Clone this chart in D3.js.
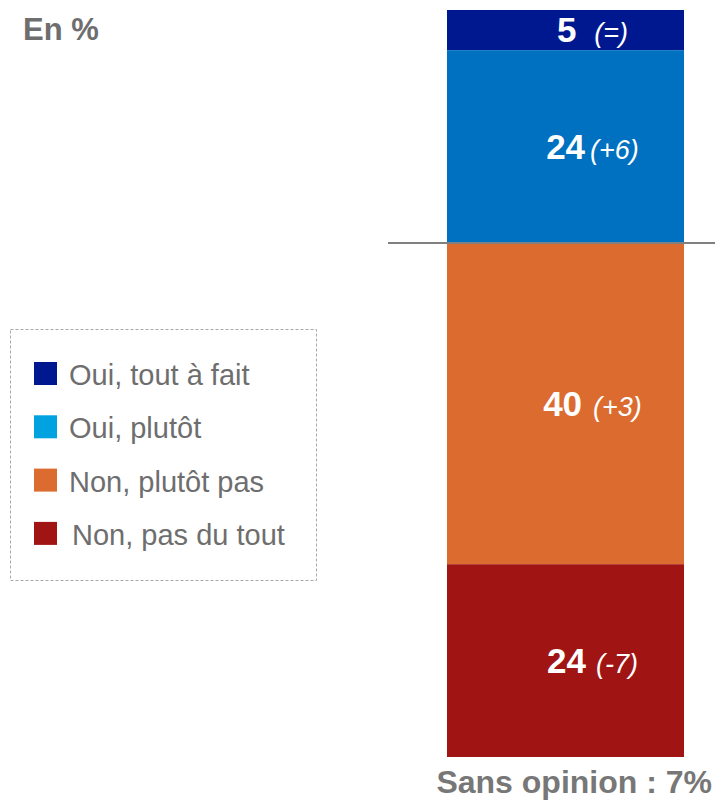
<!DOCTYPE html>
<html><head><meta charset="utf-8">
<script src="https://cdn.jsdelivr.net/npm/d3@7"></script>
<style>body{margin:0;background:#fff}svg{display:block}text{font-family:"Liberation Sans",Arial,sans-serif}</style>
</head><body>
<svg id="c" width="715" height="801"></svg>
<script>
const categories = ["Oui, tout à fait", "Oui, plutôt", "Non, plutôt pas", "Non, pas du tout"];
const values = [5, 24, 40, 24];
const changes = ["(=)", "(+6)", "(+3)", "(-7)"];
const barColors = ["#00188f", "#0070c0", "#dc6b2f", "#a11414"];
const legendColors = ["#00188f", "#00a2df", "#dc6b2f", "#a11414"];
const noOpinion = 7;

const svg = d3.select("#c");
const total = d3.sum(values);
const row = {}; categories.forEach((c, i) => row[c] = values[i]);
const stacked = d3.stack().keys(categories)([row]);

const y = d3.scaleLinear().domain([0, total]).range([10, 757]);
const x = d3.scaleBand().domain(["bar"]).range([447, 684]).padding(0);

const seg = svg.append("g").selectAll("g").data(stacked).join("g");
seg.append("rect")
  .attr("x", x("bar")).attr("width", x.bandwidth())
  .attr("y", d => y(d[0][0])).attr("height", d => y(d[0][1]) - y(d[0][0]))
  .attr("fill", (d, i) => barColors[i]);

const cx = x("bar") + x.bandwidth() / 2 + 27;
const gaps = [18, 5, 11, 10];
const lbl = seg.append("text")
  .attr("x", cx)
  .attr("y", d => (y(d[0][0]) + y(d[0][1])) / 2 + 12)
  .attr("text-anchor", "middle").attr("fill", "#fff");
lbl.append("tspan").attr("font-weight", "bold").attr("font-size", 35).text((d, i) => values[i]);
lbl.append("tspan").attr("font-style", "italic").attr("font-size", 27)
  .attr("dx", (d, i) => gaps[i]).text((d, i) => changes[i]);

// separator line between oui / non
svg.append("line").attr("x1", 388).attr("x2", 715)
  .attr("y1", y(values[0] + values[1])).attr("y2", y(values[0] + values[1]))
  .attr("stroke", "#808080").attr("stroke-width", 2);

svg.append("text").attr("x", 23).attr("y", 40).attr("font-weight", "bold")
  .attr("font-size", 31).attr("fill", "#6e6e6e").text("En %");

svg.append("text").attr("x", 712).attr("y", 793).attr("text-anchor", "end").attr("font-weight", "bold")
  .attr("font-size", 32).attr("fill", "#777").text("Sans opinion : " + noOpinion + "%");

// legend
const lg = svg.append("g");
lg.append("rect").attr("x", 10.5).attr("y", 329.5).attr("width", 306).attr("height", 251)
  .attr("fill", "none").attr("stroke", "#a8a8a8").attr("stroke-dasharray", "3,2");
const li = lg.selectAll("g.li").data(categories).join("g").attr("class", "li")
  .attr("transform", (d, i) => `translate(34,${362 + i * 53.3})`);
li.append("rect").attr("width", 23).attr("height", 23).attr("fill", (d, i) => legendColors[i]);
li.append("text").attr("x", (d, i) => i === 3 ? 38 : 35).attr("y", 23).attr("font-size", 29)
  .attr("fill", "#6e6e6e").text(d => d);
</script>
</body></html>
